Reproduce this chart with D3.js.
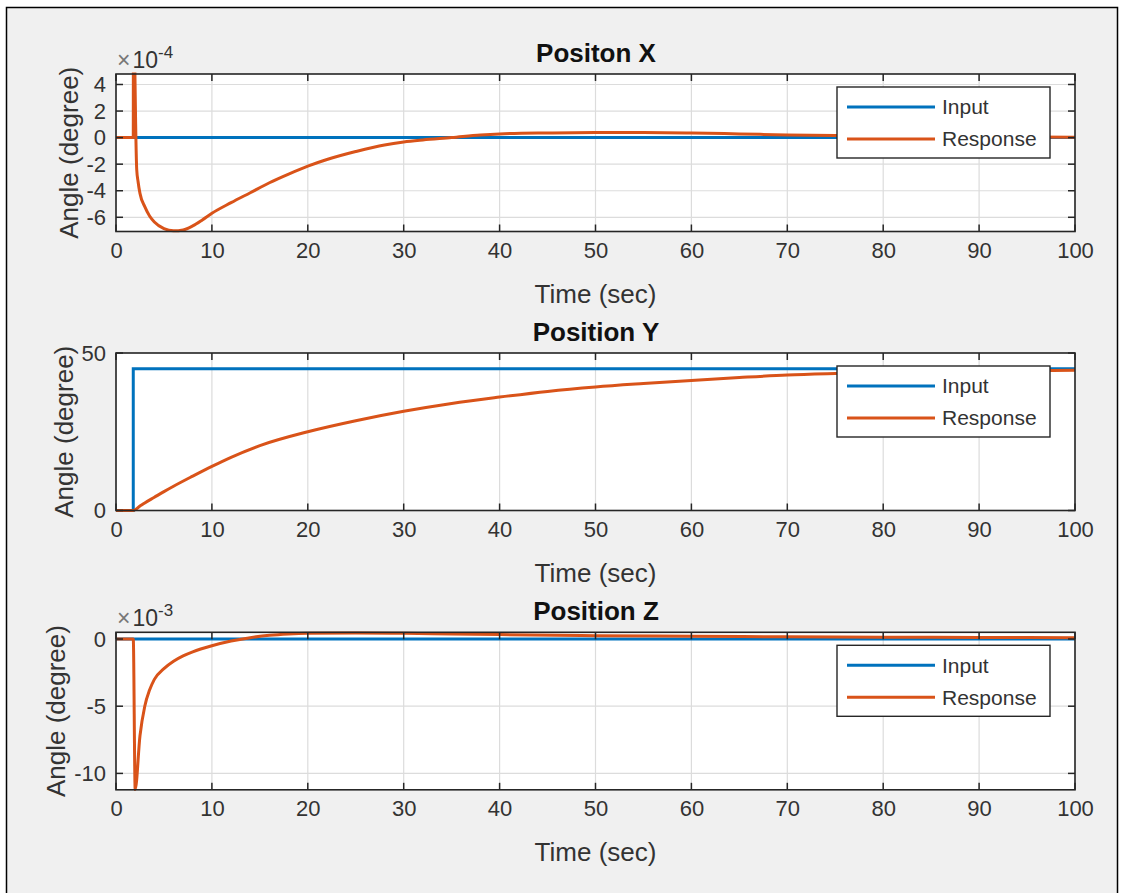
<!DOCTYPE html>
<meta charset="utf-8">
<script src="https://d3js.org/d3.v7.min.js"></script>
<style>
  body { margin: 0; background: #ffffff; }
  text { font-family: "Liberation Sans", Arial, Helvetica, sans-serif; }
</style>
<div id="my_dataviz"></div>
<script>

// ---- data ----
var timeTicks = [0, 10, 20, 30, 40, 50, 60, 70, 80, 90, 100];

// Position X, values in units of 1e-4 degree
var inputXTime = [0, 100];
var inputXVal  = [0, 0];
var respXTime = [0, 1.8, 1.82, 1.95, 2.05, 2.16, 2.3, 2.5, 3, 3.5, 4, 5, 6, 7, 8, 9, 10, 12, 14, 16,
                 18, 20, 22, 25, 28, 30, 32, 35, 38, 40, 45, 50, 55, 60, 65, 70, 75, 80, 90, 100];
var respXVal  = [0, 0, 12, 6, 1, -2.4, -3.3, -4.2, -5.2, -5.9, -6.35, -6.85, -7.02, -6.95, -6.65, -6.2, -5.7, -4.9, -4.15, -3.4,
                 -2.75, -2.15, -1.65, -1.05, -0.55, -0.33, -0.18, 0.0, 0.2, 0.28, 0.35, 0.38, 0.38, 0.35, 0.28, 0.2, 0.15, 0.12, 0.06, 0.03];
var yTicksX = [-6, -4, -2, 0, 2, 4];

// Position Y, degrees
var inputYTime = [0, 1.8, 1.8, 100];
var inputYVal  = [0, 0, 45, 45];
var respYTime = [0, 1.8, 2.5, 3, 4, 5, 6, 8, 10, 12, 15, 20, 25, 30, 35, 40, 45, 50, 55, 60, 65, 70, 75, 80, 85, 90, 95, 100];
var respYVal  = [0, 0, 1.4, 2.4, 4.2, 6.0, 7.7, 10.9, 14.0, 16.9, 20.6, 25.0, 28.5, 31.5, 34.0, 36.0, 37.8, 39.2, 40.3, 41.3, 42.2, 43.0, 43.5, 43.9, 44.1, 44.3, 44.4, 44.5];
var yTicksY = [0, 50];

// Position Z, values in units of 1e-3 degree
var inputZTime = [0, 100];
var inputZVal  = [0, 0];
var respZTime = [0, 1.8, 2.0, 2.5, 3, 3.5, 4, 5, 6, 7, 8, 10, 12, 14, 16, 18, 20, 25, 30, 35, 40, 50, 60, 70, 80, 90, 100];
var respZVal  = [0, 0, -11.2, -7.2, -5.0, -3.8, -3.0, -2.2, -1.65, -1.25, -0.95, -0.5, -0.15, 0.1, 0.28, 0.38, 0.43, 0.45, 0.43, 0.38, 0.33, 0.25, 0.2, 0.17, 0.14, 0.12, 0.1];
var yTicksZ = [-10, -5, 0];

var seriesNames = ["Input", "Response"];
var seriesColors = ["#0072BD", "#D95319"];

// ---- layout ----
var W = 1123, H = 893;
var left = 116, right = 1075, plotH = 157.5;

var svg = d3.select("#my_dataviz")
  .append("svg")
    .attr("width", W)
    .attr("height", H);

svg.append("rect").attr("width", W).attr("height", H).attr("fill", "#ffffff");
svg.append("rect")
  .attr("x", 6.5).attr("y", 7.5)
  .attr("width", 1111).attr("height", 900)
  .attr("fill", "#f0f0f0")
  .attr("stroke", "#000").attr("stroke-width", 1.5);

var x = d3.scaleLinear().domain([0, 100]).range([left, right]);

function zip(t, v) { return t.map(function(d, i) { return [d, v[i]]; }); }

function panel(cfg, idx) {
  var top = cfg.top, bottom = top + plotH;
  var y = d3.scaleLinear().domain(cfg.domain).range([bottom, top]);
  var g = svg.append("g");

  g.append("rect")
    .attr("x", left).attr("y", top)
    .attr("width", right - left).attr("height", plotH)
    .attr("fill", "#ffffff");

  // grid
  g.selectAll(".gx").data(timeTicks).enter().append("line")
    .attr("x1", function(d) { return x(d); }).attr("x2", function(d) { return x(d); })
    .attr("y1", top).attr("y2", bottom)
    .attr("stroke", "#dcdcdc").attr("stroke-width", 1.2);
  g.selectAll(".gy").data(cfg.yTicks).enter().append("line")
    .attr("x1", left).attr("x2", right)
    .attr("y1", function(d) { return y(d); }).attr("y2", function(d) { return y(d); })
    .attr("stroke", "#dcdcdc").attr("stroke-width", 1.2);

  // lines
  var clipId = "clip" + idx;
  g.append("clipPath").attr("id", clipId)
    .append("rect").attr("x", left).attr("y", top - 1.5).attr("width", right - left).attr("height", plotH + 3);

  var line = d3.line().x(function(d) { return x(d[0]); }).y(function(d) { return y(d[1]); });
  var smooth = d3.line().x(function(d) { return x(d[0]); }).y(function(d) { return y(d[1]); }).curve(d3.curveMonotoneX);

  g.append("path")
    .datum(zip(cfg.inTime, cfg.inVal))
    .attr("d", line)
    .attr("clip-path", "url(#" + clipId + ")")
    .attr("fill", "none").attr("stroke", seriesColors[0]).attr("stroke-width", 3);
  g.append("path")
    .datum(zip(cfg.respTime, cfg.respVal))
    .attr("d", smooth)
    .attr("clip-path", "url(#" + clipId + ")")
    .attr("fill", "none").attr("stroke", seriesColors[1]).attr("stroke-width", 3)
    .attr("stroke-linejoin", "round");

  // inward ticks on all sides
  var tl = 7;
  timeTicks.forEach(function(d) {
    g.append("line").attr("x1", x(d)).attr("x2", x(d)).attr("y1", bottom).attr("y2", bottom - tl).attr("stroke", "#262626").attr("stroke-width", 1.5);
    g.append("line").attr("x1", x(d)).attr("x2", x(d)).attr("y1", top).attr("y2", top + tl).attr("stroke", "#262626").attr("stroke-width", 1.5);
  });
  cfg.yTicks.forEach(function(d) {
    g.append("line").attr("x1", left).attr("x2", left + tl).attr("y1", y(d)).attr("y2", y(d)).attr("stroke", "#262626").attr("stroke-width", 1.5);
    g.append("line").attr("x1", right).attr("x2", right - tl).attr("y1", y(d)).attr("y2", y(d)).attr("stroke", "#262626").attr("stroke-width", 1.5);
  });

  // box
  g.append("rect")
    .attr("x", left).attr("y", top)
    .attr("width", right - left).attr("height", plotH)
    .attr("fill", "none").attr("stroke", "#262626").attr("stroke-width", 1.6);

  // tick labels via d3 axes
  var xa = g.append("g")
    .attr("transform", "translate(0," + bottom + ")")
    .call(d3.axisBottom(x).tickValues(timeTicks).tickSize(0).tickPadding(11).tickFormat(function(d) { return String(d); }));
  var ya = g.append("g")
    .attr("transform", "translate(" + left + ",0)")
    .call(d3.axisLeft(y).tickValues(cfg.yTicks).tickSize(0).tickPadding(10).tickFormat(function(d) { return String(d); }));
  [xa, ya].forEach(function(a) {
    a.select(".domain").remove();
    a.selectAll("text").attr("fill", "#333").style("font-size", "22px");
  });

  // axis titles
  g.append("text")
    .attr("x", (left + right) / 2).attr("y", bottom + 62).attr("dy", "0.35em")
    .attr("text-anchor", "middle")
    .attr("fill", "#333").style("font-size", "26px")
    .text("Time (sec)");

  var yb = ya.node().getBBox();
  g.append("text")
    .attr("transform", "translate(" + (left + yb.x - 18) + "," + ((top + bottom) / 2) + ") rotate(-90)")
    .attr("dy", "0.35em")
    .attr("text-anchor", "middle")
    .attr("fill", "#333").style("font-size", "26px")
    .text("Angle (degree)");

  g.append("text")
    .attr("x", (left + right) / 2 + 0.5).attr("y", top - 21).attr("dy", "0.35em")
    .attr("text-anchor", "middle")
    .attr("fill", "#111").style("font-size", "26px").style("font-weight", "bold")
    .text(cfg.title);

  if (cfg.exponent) {
    var ex = g.append("text")
      .attr("x", left + 1).attr("y", top - 6)
      .attr("fill", "#333").style("font-size", "23px");
    ex.append("tspan").attr("fill", "#777").text("\u00d7");
    ex.append("tspan").attr("dx", 2).text("10");
    ex.append("tspan").attr("dy", -10).style("font-size", "17px").text(cfg.exponent);
  }

  // legend
  var lx = right - 238, ly = top + 13;
  var lg = g.append("g");
  lg.append("rect")
    .attr("x", lx).attr("y", ly).attr("width", 213).attr("height", 71)
    .attr("fill", "#ffffff").attr("stroke", "#262626").attr("stroke-width", 1.4);
  seriesNames.forEach(function(name, i) {
    var ry = ly + 20 + i * 32;
    lg.append("line")
      .attr("x1", lx + 10).attr("x2", lx + 98)
      .attr("y1", ry).attr("y2", ry)
      .attr("stroke", seriesColors[i]).attr("stroke-width", 3);
    lg.append("text")
      .attr("x", lx + 105).attr("y", ry).attr("dy", "0.35em")
      .attr("fill", "#333").style("font-size", "21px")
      .text(name);
  });
}

var panels = [
  { title: "Positon X", top: 74, domain: [-7.07, 4.79], yTicks: yTicksX, exponent: "-4",
    inTime: inputXTime, inVal: inputXVal, respTime: respXTime, respVal: respXVal },
  { title: "Position Y", top: 353, domain: [0, 50], yTicks: yTicksY, exponent: null,
    inTime: inputYTime, inVal: inputYVal, respTime: respYTime, respVal: respYVal },
  { title: "Position Z", top: 632.3, domain: [-11.22, 0.5], yTicks: yTicksZ, exponent: "-3",
    inTime: inputZTime, inVal: inputZVal, respTime: respZTime, respVal: respZVal }
];

panels.forEach(panel);

</script>
